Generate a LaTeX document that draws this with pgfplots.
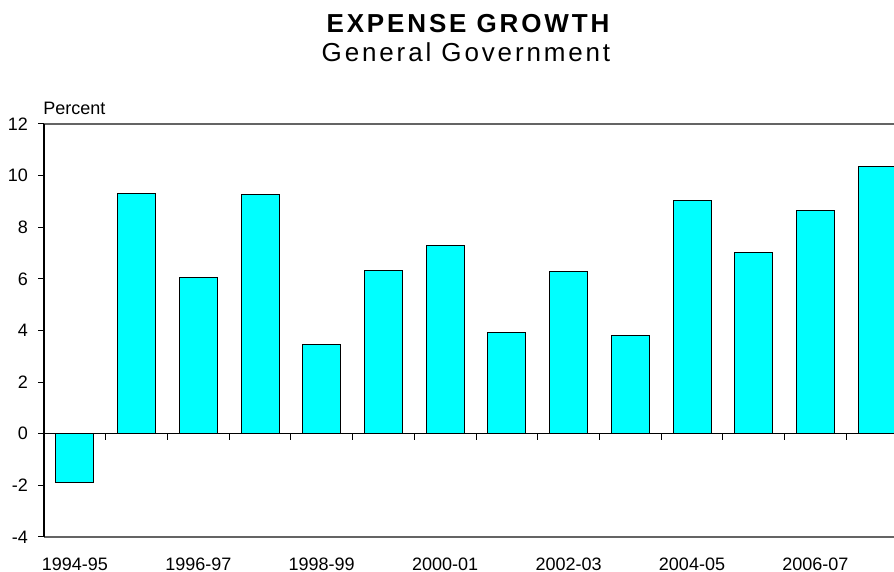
\documentclass[border=0pt]{standalone}
\usepackage{fontspec}
\setmainfont{Liberation Sans}
\usepackage{pgfplots}
\pgfplotsset{compat=1.18}
\definecolor{barcyan}{RGB}{0,255,255}
\definecolor{framegray}{RGB}{100,100,100}
\begin{document}
\begin{tikzpicture}
\path[use as bounding box] (-22pt,-17.5pt) rectangle (425pt,268.5pt);
\clip (-22pt,-17.5pt) rectangle (425pt,268.5pt);
\begin{axis}[
  at={(0pt,0pt)}, anchor=south west,
  scale only axis, width=432pt, height=206.5pt,
  xmin=-0.5, xmax=13.5, ymin=-4, ymax=12,
  separate axis lines,
  x axis line style={draw=framegray, line width=0.7pt},
  y axis line style={draw=black, line width=0.7pt},
  xtick={0,2,4,6,8,10,12},
  xticklabels={1994-95,1996-97,1998-99,2000-01,2002-03,2004-05,2006-07},
  x tick style={draw=none},
  ytick={-4,-2,0,2,4,6,8,10,12},
  y tick style={draw=black, line width=0.5pt},
  tick align=outside, major tick length=3pt,
  ticklabel style={font=\fontsize{9}{11}\selectfont},
  /pgf/number format/assume math mode=true,
  xticklabel style={yshift=-3.8pt},
  yticklabel style={xshift=-1.5pt},
  ybar, bar width=19pt,
  clip=false,
]
\addplot[draw=black, fill=barcyan, line width=0.5pt] coordinates {
(0,-1.9) (1,9.32) (2,6.05) (3,9.28) (4,3.47) (5,6.31) (6,7.29)
(7,3.91) (8,6.28) (9,3.80) (10,9.02) (11,7.02) (12,8.66) (13,10.35)
};
\draw[black, line width=0.6pt] (axis cs:-0.5,0) -- (axis cs:13.5,0);
\pgfplotsinvokeforeach{0.5,1.5,2.5,3.5,4.5,5.5,6.5,7.5,8.5,9.5,10.5,11.5,12.5}{
  \draw[black, line width=0.5pt] (axis cs:#1,0) -- ([yshift=-3pt]axis cs:#1,0);
}
\end{axis}
\node[anchor=base west, inner sep=0pt, font=\fontsize{9}{11}\selectfont] at (-0.5pt,211pt) {Percent};
\node[anchor=base, inner sep=0pt, font=\fontsize{13}{15}\selectfont\bfseries\addfontfeature{LetterSpace=11}] at (212pt,252pt) {EXPENSE GROWTH};
\node[anchor=base, inner sep=0pt, font=\fontsize{13}{15}\selectfont\addfontfeature{LetterSpace=11}] at (211pt,237.5pt) {General Government};
\end{tikzpicture}
\end{document}
